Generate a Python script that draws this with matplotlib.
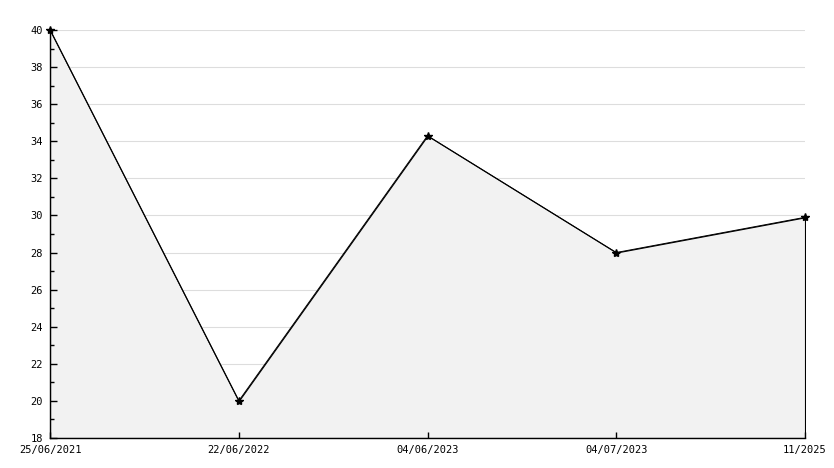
import matplotlib
matplotlib.use("Agg")
import matplotlib.pyplot as plt
from matplotlib.ticker import MultipleLocator

labels = ["25/06/2021", "22/06/2022", "04/06/2023", "04/07/2023", "11/2025"]
values = [40, 20, 34.3, 28, 29.9]
y_grid = [20, 22, 24, 26, 28, 30, 32, 34, 36, 38, 40]

W, H = 834, 468
fig = plt.figure(figsize=(W / 100, H / 100), dpi=100)
ax = fig.add_axes([50 / W, 30 / H, (805 - 50) / W, (438 - 30) / H])

x = list(range(len(values)))
for g in y_grid:
    ax.axhline(g, color="#dddddd", linewidth=0.8, zorder=0.5)
ax.fill_between(x, values, 18, facecolor="#f2f2f2", edgecolor="black", linewidth=0.8, zorder=1)
ax.plot(x, values, color="black", linewidth=0.7, marker="*", markersize=6, zorder=3, clip_on=False)

ax.set_xlim(0, len(values) - 1)
ax.set_ylim(18, 40)
ax.yaxis.set_major_locator(MultipleLocator(2))
ax.yaxis.set_minor_locator(MultipleLocator(1))
ax.set_xticks(x)
ax.set_xticklabels(labels)

ax.set_axisbelow(False)
for s in ["top", "right"]:
    ax.spines[s].set_visible(False)
for s in ["left", "bottom"]:
    ax.spines[s].set_color("black")
    ax.spines[s].set_linewidth(1)

ax.tick_params(axis="y", which="major", direction="in", length=5, width=1, labelsize=7.5, pad=5)
ax.tick_params(axis="y", which="minor", direction="in", length=3, width=1)
ax.tick_params(axis="x", which="major", direction="in", length=4, width=1, labelsize=7.5, pad=5)
for lab in ax.get_xticklabels() + ax.get_yticklabels():
    lab.set_family("DejaVu Sans Mono")

fig.savefig("out.png", dpi=100)
